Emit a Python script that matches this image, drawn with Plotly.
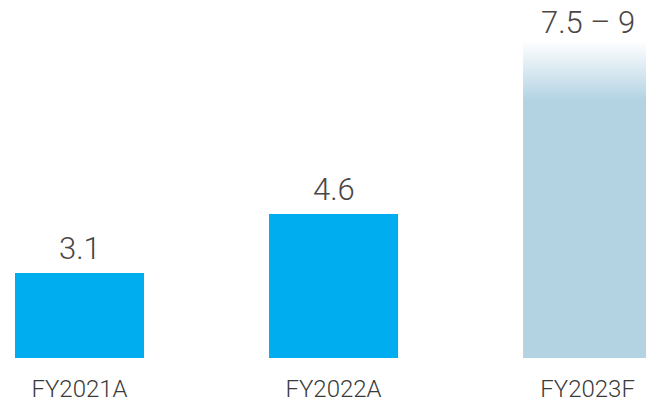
import plotly.graph_objects as go

# ---- data ----
categories = ["FY2021A", "FY2022A", "FY2023F"]
actual_values = [3.1, 4.6]
forecast_low = 7.5
forecast_high = 9.0
value_labels = ["3.1", "4.6", "7.5 – 9"]

# ---- style ----
CYAN = "#00AEEF"
LIGHT = "#B3D3E3"
BAR_W = 0.508
x_idx = list(range(len(categories)))

fig = go.Figure()

# solid bars (actuals)
fig.add_trace(go.Bar(
    x=x_idx[:2],
    y=actual_values,
    width=BAR_W,
    marker=dict(color=CYAN, line=dict(width=0)),
    hoverinfo="skip",
))

# forecast bar: solid up to the low bound, fading out up to the high bound
xf = x_idx[2]
frac = forecast_low / forecast_high
fig.add_trace(go.Scatter(
    x=[xf - BAR_W / 2, xf + BAR_W / 2, xf + BAR_W / 2, xf - BAR_W / 2, xf - BAR_W / 2],
    y=[0, 0, forecast_high, forecast_high, 0],
    mode="lines",
    line=dict(width=0, color=LIGHT),
    fill="toself",
    fillgradient=dict(type="vertical", start=0, stop=forecast_high,
                      colorscale=[[0, LIGHT], [frac, LIGHT], [1, "#FFFFFF"]]),
    hoverinfo="skip",
))

# value labels
tops = actual_values + [forecast_high]
shifts = [4, 4, -2]
for xi, top, lab, sh in zip(x_idx, tops, value_labels, shifts):
    fig.add_annotation(x=xi, y=top, text=lab, showarrow=False,
                       yanchor="bottom", yshift=sh,
                       font=dict(family="Roboto", size=31, color="#4B4644", weight=300))

fig.update_layout(
    width=646, height=403,
    margin=dict(l=0, r=0, t=0, b=45),
    paper_bgcolor="white", plot_bgcolor="white",
    showlegend=False,
    xaxis=dict(range=[-0.313, 2.230], tickvals=x_idx, ticktext=categories,
               showgrid=False, zeroline=False, showline=False, ticks="",
               ticklabelstandoff=14,
               tickfont=dict(family="Roboto", size=24, color="#3A3A3A", weight=300)),
    yaxis=dict(range=[0.936, 10.05], visible=False, showgrid=False, zeroline=False),
)

fig.write_html("out.html", config={"displayModeBar": False},
               post_script="document.body.style.margin='0';")
